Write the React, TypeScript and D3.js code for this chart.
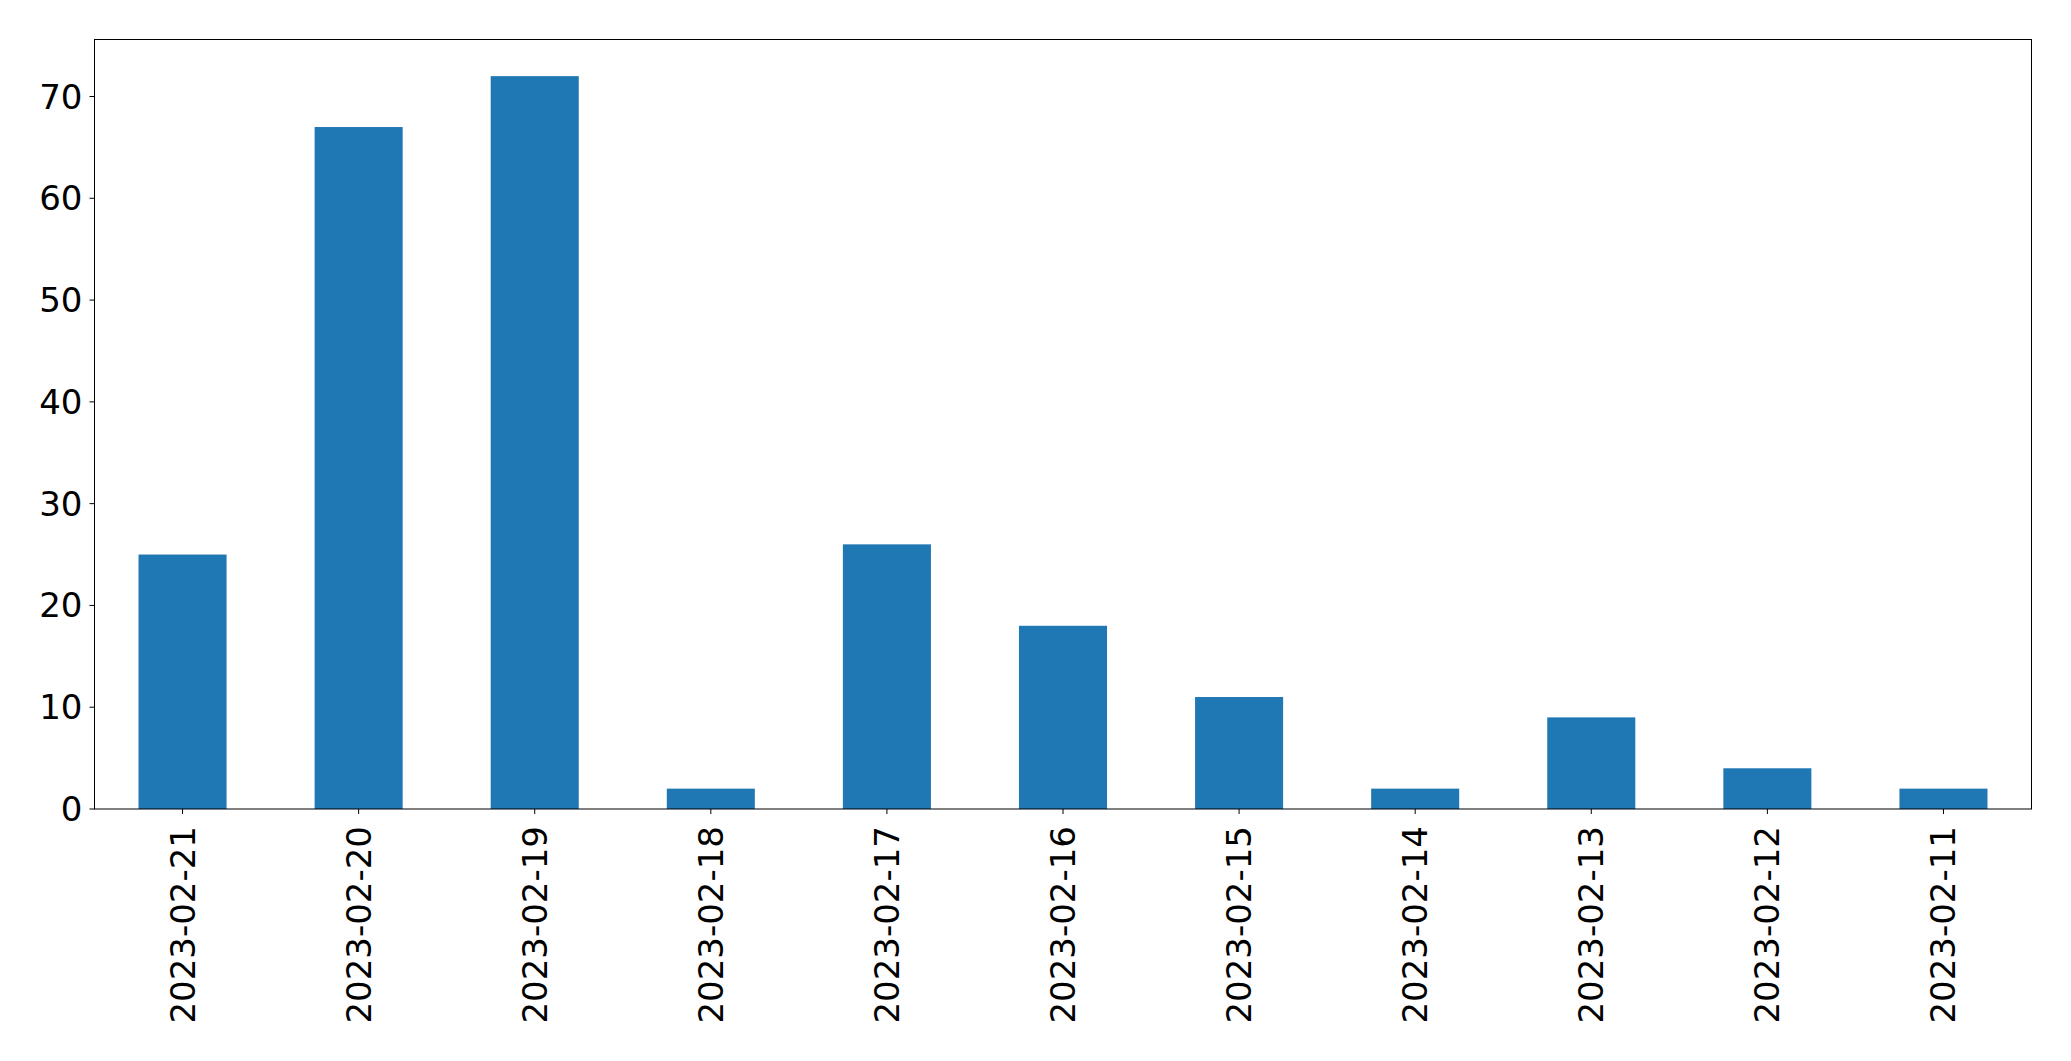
import React from "react";
import * as d3 from "d3";

const categories = [
  "2023-02-21", "2023-02-20", "2023-02-19", "2023-02-18", "2023-02-17", "2023-02-16",
  "2023-02-15", "2023-02-14", "2023-02-13", "2023-02-12", "2023-02-11",
];
const values = [25, 67, 72, 2, 26, 18, 11, 2, 9, 4, 2];
const yTicks = [0, 10, 20, 30, 40, 50, 60, 70];

const W = 2071;
const H = 1061;
const left = 94.5;
const right = 2031.5;
const top = 39.5;
const bottom = 809;
const font = "'DejaVu Sans', sans-serif";
const fs = 34;

export default function App() {
  const x = d3.scaleBand<string>().domain(categories).range([left, right]).paddingInner(0.5).paddingOuter(0.25);
  const y = d3.scaleLinear().domain([0, 72 * 1.05]).range([bottom, top]);
  const bw = x.bandwidth();
  return (
    <svg width={W} height={H} style={{ position: "fixed", left: 0, top: 0, background: "#fff" }}>
      <rect x={0} y={0} width={W} height={H} fill="#fff" />
      {categories.map((c, i) => (
        <rect key={c} x={x(c)!} y={y(values[i])} width={bw} height={y(0) - y(values[i])} fill="#1f77b4" />
      ))}
      <rect x={left} y={top} width={right - left} height={bottom - top} fill="none" stroke="#000" strokeWidth={1} />
      {yTicks.map((t) => (
        <g key={t}>
          <line x1={left - 5} x2={left} y1={y(t)} y2={y(t)} stroke="#000" strokeWidth={1} />
          <text x={left - 12} y={y(t)} textAnchor="end" dominantBaseline="central" fontFamily={font} fontSize={fs} fill="#000">
            {t}
          </text>
        </g>
      ))}
      {categories.map((c) => {
        const cx = x(c)! + bw / 2;
        return (
          <g key={c}>
            <line x1={cx} x2={cx} y1={bottom} y2={bottom + 5} stroke="#000" strokeWidth={1} />
            <text
              transform={`translate(${cx},${bottom + 17}) rotate(-90)`}
              textAnchor="end"
              dominantBaseline="central"
              fontFamily={font}
              fontSize={fs}
              fill="#000"
            >
              {c}
            </text>
          </g>
        );
      })}
    </svg>
  );
}
